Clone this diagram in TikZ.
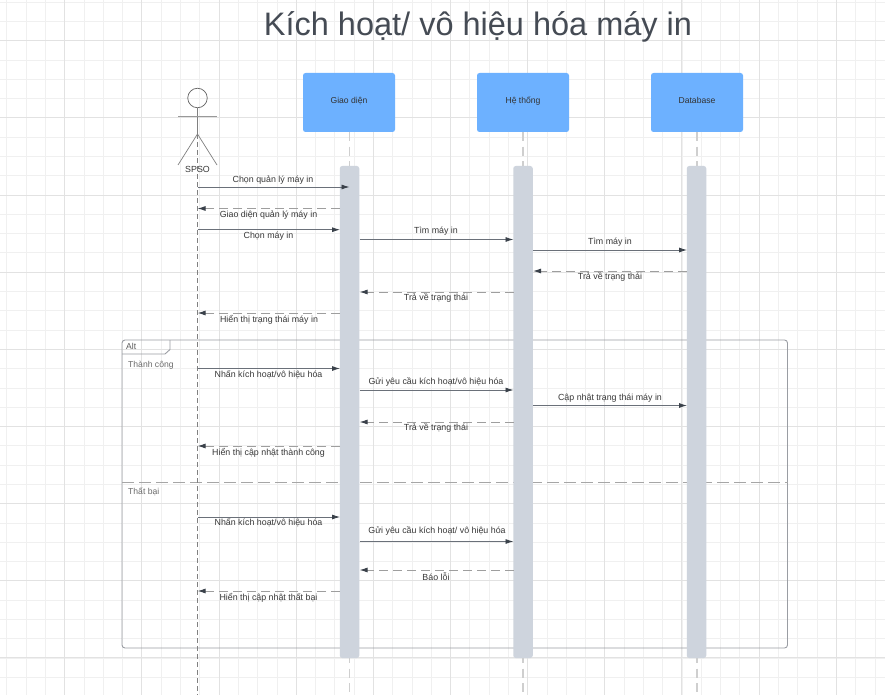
\documentclass[tikz,border=0pt]{standalone}
\usepackage{fontspec}
\setmainfont{Liberation Sans}
\usetikzlibrary{arrows.meta}
\definecolor{gridminor}{HTML}{F0F0F0}
\definecolor{gridmajor}{HTML}{E2E2E2}
\definecolor{boxblue}{HTML}{6DB1FF}
\definecolor{barfill}{HTML}{CED4DD}
\definecolor{lifegray}{HTML}{CFCFCF}
\definecolor{msgdark}{HTML}{6A7079}
\definecolor{tipdark}{HTML}{3A414A}
\definecolor{framegray}{HTML}{9A9DA3}
\definecolor{titlecol}{HTML}{454B54}
\tikzset{
  x=1pt,y=-1pt,
  lifebox/.style={draw=none,fill=boxblue,rounded corners=2.5pt,minimum width=92pt,minimum height=59pt,inner sep=0pt},
  boxlabel/.style={inner sep=0pt,anchor=base,font=\fontsize{8.6}{10}\selectfont,text=black!80},
  actbar/.style={draw=none,fill=barfill,rounded corners=2.5pt,minimum width=19.5pt,minimum height=492pt,inner sep=0pt},
  lifedash/.style={draw=lifegray,line width=1.6pt,dash pattern=on 9pt off 5.5pt},
  actorline/.style={draw=black!50,line width=.7pt},
  msg/.style={draw=msgdark,line width=.8pt,-{Latex[length=8pt,width=5pt,color=tipdark]}},
  ret/.style={draw=black!38,line width=1pt,dash pattern=on 9pt off 5pt,-{Latex[length=8pt,width=5pt,color=tipdark]}},
  mlabel/.style={inner sep=0pt,font=\fontsize{8.85}{10}\selectfont,text=black!78},
  flabel/.style={inner sep=0pt,font=\fontsize{8.6}{10}\selectfont,text=black!58,anchor=west},
  framepath/.style={draw=framegray,line width=.9pt},
}
\begin{document}
\begin{tikzpicture}
\useasboundingbox (0,0) rectangle (885,695);
\fill[white] (0,0) rectangle (885,695);
% grid
\foreach \k in {0,...,46}{
  \pgfmathsetmacro{\gx}{6.85+19.29*\k}
  \draw[gridminor,line width=.8pt] (\gx,0) -- (\gx,695);
}
\foreach \k in {0,...,36}{
  \pgfmathsetmacro{\gy}{2.1+19.29*\k}
  \draw[gridminor,line width=.8pt] (0,\gy) -- (885,\gy);
}
\foreach \k in {0,...,10}{
  \pgfmathsetmacro{\gx}{64.7+77.15*\k}
  \draw[gridmajor,line width=.9pt] (\gx,0) -- (\gx,695);
}
\foreach \k in {0,...,8}{
  \pgfmathsetmacro{\gy}{40.7+77.15*\k}
  \draw[gridmajor,line width=.9pt] (0,\gy) -- (885,\gy);
}
% title
\node[inner sep=0pt,text=titlecol,font=\fontsize{32.5}{36}\selectfont] (title) at (478,27) {Kích hoạt/ vô hiệu hóa máy in};
% lifelines
\node[lifebox] (ui) at (349,102.5) {};
\node[lifebox] (sys) at (523,102.5) {};
\node[lifebox] (db) at (697,102.5) {};
\node[boxlabel] (uil) at (349,104) {Giao diện};
\node[boxlabel] (sysl) at (523,104) {Hệ thống};
\node[boxlabel] (dbl) at (697,104) {Database};
\coordinate (uiend) at (349.5,695);
\coordinate (sysend) at (522.8,695);
\coordinate (dbend) at (697,695);
\draw[lifedash] (ui.south -| uiend) -- (uiend);
\draw[lifedash] (sys.south -| sysend) -- (sysend);
\draw[lifedash] (db.south -| dbend) -- (dbend);
% frame
\draw[framepath,rounded corners=3pt] (122,340) rectangle (787.5,648);
\draw[framepath] (122,354) -- (165,354) -- (170,349.5) -- (170,340);
\draw[draw=black!35,line width=.9pt,dash pattern=on 12pt off 5pt] (122,482.5) -- (787.5,482.5);
\node[inner sep=0pt,font=\fontsize{8.6}{10}\selectfont,text=black!65,anchor=west] (altl) at (126,346.5) {Alt};
\node[flabel] (okl) at (128,365) {Thành công};
\node[flabel] (failtl) at (128,492) {Thất bại};
% bars
\node[actbar] (ba) at (349.5,412) {};
\node[actbar] (bb) at (523,412) {};
\node[actbar] (bc) at (696.5,412) {};
% actor
\node[draw=black!60,line width=.7pt,circle,minimum size=19.5pt,inner sep=0pt] (head) at (197.5,98) {};
\coordinate (hip) at (197.5,134);
\coordinate (armL) at (178,117);
\coordinate (armR) at (217,117);
\coordinate (legL) at (178,165);
\coordinate (legR) at (217,165);
\coordinate (spsoend) at (197.5,695);
\draw[actorline] (head.south) -- (hip);
\draw[draw=black!40,line width=1pt] (armL) -- (armR);
\draw[actorline] (legL) -- (hip) -- (legR);
\draw[draw=black!50,line width=.7pt,dash pattern=on 5pt off 3pt] (hip) -- (spsoend);
\node[mlabel] (spso) at (197.5,169) {SPSO};
% message endpoints
\foreach \n/\y in {a/187,b/208.5,c/229.7,d/313,e/368.5,f/446,g/517,h/591}{
  \coordinate (s\n) at (197.5,\y);
  \coordinate (u\n) at (340,\y);
}
\coordinate (ua2) at (349.5,187);
\foreach \n/\y in {a/239.5,b/292,c/390,d/422,e/541.5,f/570}{
  \coordinate (l\n) at (359.5,\y);
  \coordinate (r\n) at (513.5,\y);
}
\foreach \n/\y in {a/250,b/271,c/405.5}{
  \coordinate (m\n) at (533,\y);
  \coordinate (n\n) at (687,\y);
}
% messages
\draw[msg] (sa) -- (ua2);
\draw[ret] (ub) -- (sb);
\draw[msg] (sc) -- (uc);
\draw[msg] (la) -- (ra);
\draw[msg] (ma) -- (na);
\draw[ret] (nb) -- (mb);
\draw[ret] (rb) -- (lb);
\draw[ret] (ud) -- (sd);
\draw[msg] (se) -- (ue);
\draw[msg] (lc) -- (rc);
\draw[msg] (mc) -- (nc);
\draw[ret] (rd) -- (ld);
\draw[ret] (uf) -- (sf);
\draw[msg] (sg) -- (ug);
\draw[msg] (le) -- (re);
\draw[ret] (rf) -- (lf);
\draw[ret] (uh) -- (sh);
% labels
\node[mlabel] (t1) at (273,180) {Chọn quản lý máy in};
\node[mlabel] (t2) at (268.5,215.5) {Giao diện quản lý máy in};
\node[mlabel] (t3) at (268.5,236) {Chọn máy in};
\node[mlabel] (t4) at (436,231.5) {Tìm máy in};
\node[mlabel] (t5) at (610,242.5) {Tìm máy in};
\node[mlabel] (t6) at (610,277.5) {Trả về trạng thái};
\node[mlabel] (t7) at (436,298.5) {Trả về trạng thái};
\node[mlabel] (t8) at (269,319.5) {Hiển thị trạng thái máy in};
\node[mlabel] (t9) at (268.5,375) {Nhấn kích hoạt/vô hiệu hóa};
\node[mlabel] (t10) at (436,382.5) {Gửi yêu cầu kích hoạt/vô hiệu hóa};
\node[mlabel] (t11) at (610,398) {Cập nhật trạng thái máy in};
\node[mlabel] (t12) at (436,428.5) {Trả về trạng thái};
\node[mlabel] (t13) at (268.5,452.5) {Hiển thị cập nhật thành công};
\node[mlabel] (t14) at (268.5,523) {Nhấn kích hoạt/vô hiệu hóa};
\node[mlabel] (t15) at (437,531.5) {Gửi yêu cầu kích hoạt/ vô hiệu hóa};
\node[mlabel] (t16) at (436,576.5) {Báo lỗi};
\node[mlabel] (t17) at (268.5,597.5) {Hiển thị cập nhật thất bại};
\end{tikzpicture}
\end{document}
